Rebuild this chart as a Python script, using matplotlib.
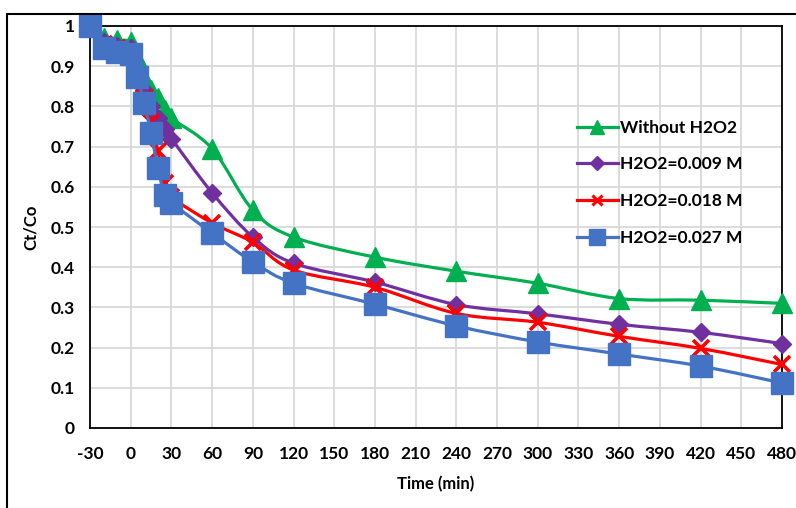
import numpy as np
import matplotlib
matplotlib.use("Agg")
import matplotlib.pyplot as plt
from matplotlib.path import Path
from matplotlib.patches import PathPatch, Rectangle
from matplotlib.lines import Line2D

plt.rcParams['font.family'] = ['Lato', 'DejaVu Sans']
plt.rcParams['font.weight'] = 'bold'
plt.rcParams['axes.unicode_minus'] = False

time_min = [-30, -20, -10, 0, 5, 10, 15, 20, 25, 30, 60, 90, 120, 180, 240, 300, 360, 420, 480]
no_h2o2 = [1.0, 0.97, 0.965, 0.96, 0.92, 0.87, 0.84, 0.82, 0.79, 0.77, 0.695, 0.542, 0.475,
           0.425, 0.39, 0.36, 0.322, 0.318, 0.31]
h2o2_009 = [1.0, 0.96, 0.95, 0.945, 0.89, 0.84, 0.80, 0.77, 0.745, 0.72, 0.585, 0.475, 0.41,
            0.363, 0.307, 0.284, 0.258, 0.238, 0.21]
h2o2_018 = [1.0, 0.955, 0.945, 0.935, 0.87, 0.82, 0.76, 0.69, 0.61, 0.575, 0.51, 0.462, 0.393,
            0.35, 0.285, 0.263, 0.228, 0.198, 0.158]
h2o2_027 = [1.0, 0.945, 0.935, 0.93, 0.873, 0.808, 0.734, 0.647, 0.58, 0.56, 0.485, 0.413, 0.36,
            0.308, 0.254, 0.214, 0.184, 0.154, 0.112]

labels = ["Without H2O2", "H2O2=0.009 M", "H2O2=0.018 M", "H2O2=0.027 M"]
colors = ["#00B050", "#7030A0", "#FF0000", "#4472C4"]
markers = ["^", "D", "x", "s"]
msizes = [14, 9.5, 11, 16]


def smooth_path(x, y):
    # cubic bezier through the points (Catmull-Rom style), like a spreadsheet "smoothed line"
    p = np.column_stack([x, y]).astype(float)
    verts = [p[0]]
    codes = [Path.MOVETO]
    n = len(p)
    for i in range(n - 1):
        p0 = p[i - 1] if i > 0 else p[i]
        p3 = p[i + 2] if i + 2 < n else p[i + 1]
        c1 = p[i] + (p[i + 1] - p0) / 6.0
        c2 = p[i + 1] - (p3 - p[i]) / 6.0
        verts += [c1, c2, p[i + 1]]
        codes += [Path.CURVE4] * 3
    return Path(verts, codes)


fig = plt.figure(figsize=(7.96, 5.08), dpi=100)
ax = fig.add_axes([90 / 796, 1 - 428 / 508, 692 / 796, 402 / 508])

series = [no_h2o2, h2o2_009, h2o2_018, h2o2_027]
handles = []
for k, vals in enumerate(series):
    z = 3 + 2 * k
    ax.add_patch(PathPatch(smooth_path(time_min, vals), facecolor='none',
                           edgecolor=colors[k], lw=2.3, zorder=z))
    if markers[k] == "x":
        ax.plot(time_min, vals, linestyle='none', marker='x', ms=msizes[k],
                mec=colors[k], mew=2.6, zorder=z + 1, clip_on=False)
    else:
        ax.plot(time_min, vals, linestyle='none', marker=markers[k], ms=msizes[k],
                mfc=colors[k], mec=colors[k], zorder=z + 1, clip_on=False)
    handles.append(Line2D([], [], color=colors[k], lw=2.3, marker=markers[k],
                          ms=msizes[k] * 0.7, mew=2.2 if markers[k] == "x" else 1))

ax.set_xlim(-30, 480)
ax.set_ylim(0, 1)
ax.set_xticks(np.arange(-30, 481, 30))
ax.set_yticks(np.arange(0, 1.01, 0.1))
ax.set_yticklabels(["0"] + ["%.1f" % v for v in np.arange(0.1, 0.95, 0.1)] + ["1"])
ax.grid(True, color="#d9d9d9", lw=1.3)
ax.set_axisbelow(True)
for s in ax.spines.values():
    s.set_color("black")
    s.set_linewidth(1.3)
ax.tick_params(length=0, labelsize=12.5, pad=13)
ax.tick_params(axis='y', pad=11)
for t in ax.get_xticklabels() + ax.get_yticklabels():
    t.set_fontweight('bold')

ax.set_xlabel("Time (min)", fontsize=12, fontweight='bold', labelpad=10)
ax.set_ylabel("Ct/Co", fontsize=12, fontweight='bold', labelpad=8)

leg = ax.legend(handles=handles, labels=labels, loc='upper left',
                bbox_to_anchor=(561 / 796, 1 - 104 / 508), bbox_transform=fig.transFigure,
                frameon=False, fontsize=12.5, handlelength=2.4, handletextpad=0.1,
                labelspacing=1.2)
for t in leg.get_texts():
    t.set_fontweight('bold')

# chart-area border
fig.patches.append(Rectangle((7 / 796, -0.1), 1.2, (1 - 14 / 508) + 0.1,
                             transform=fig.transFigure, fill=False,
                             edgecolor='black', lw=1.5))

fig.savefig("out.png", dpi=100)
